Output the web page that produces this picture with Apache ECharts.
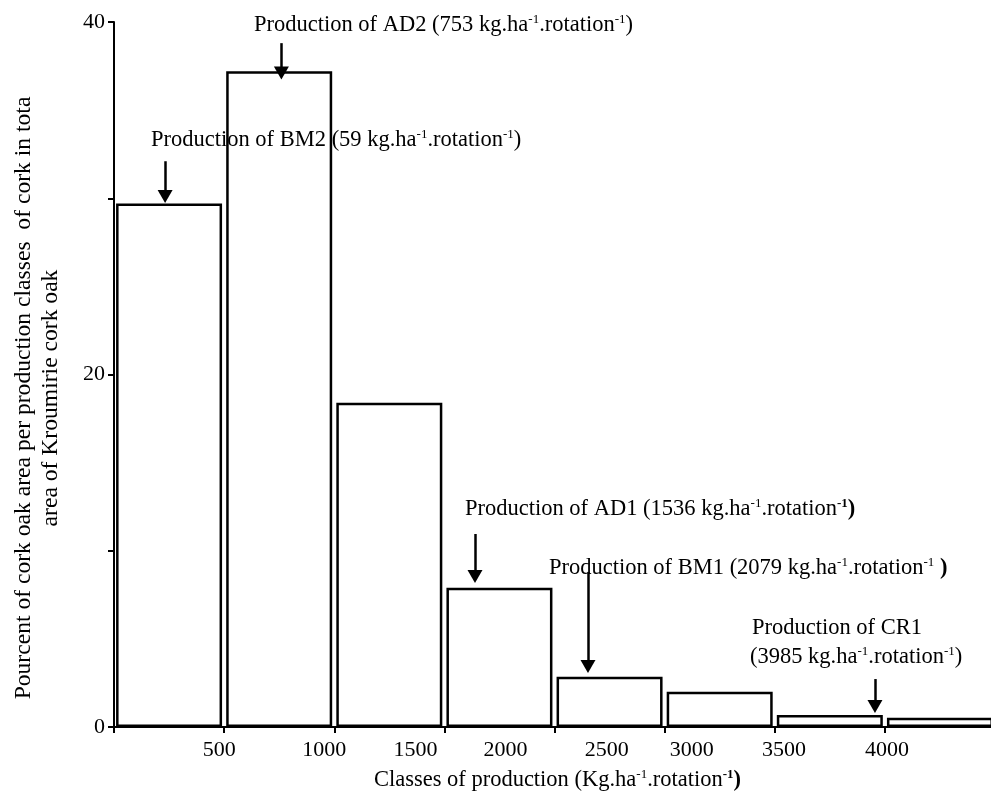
<!DOCTYPE html>
<html>
<head>
<meta charset="utf-8">
<script src="https://cdn.jsdelivr.net/npm/echarts@6/dist/echarts.min.js"></script>
<style>
html,body{margin:0;padding:0;background:#fff;}
#chart{width:991px;height:791px;}
</style>
</head>
<body>
<div id="chart"></div>
<script>
// ---- data ----
const binCenters = [250, 750, 1250, 1750, 2250, 2750, 3250, 3750];
const percentArea = [29.7, 37.2, 18.4, 7.9, 2.85, 2.0, 0.68, 0.53];
const xTickValues = [500, 1000, 1500, 2000, 2500, 3000, 3500, 4000];
const xTickLabels = ['500', '1000', '1500', '2000', '2500', '3000', '3500', '4000'];
const yTickLabels = [0, 20, 40];

// annotation arrows (data coordinates: x = production, y = percent)
const arrowX    = [232, 760, 1639, 2152, 3455];
const arrowFrom = [32.1, 38.8, 10.95, 8.8, 2.72];
const arrowTo   = [30.1, 37.1, 8.54, 3.43, 1.16];

// ---- layout / style ----
const FONT = '"Liberation Serif", "Times New Roman", serif';
const xLabelShift = [-5, -10, -29, -49, -58, -83, -101, -108];

const base = {fontFamily: FONT, fontSize: 22.5, lineHeight: 24, color: '#000'};
const richText = {
  t: Object.assign({}, base),
  b: Object.assign({}, base, {fontWeight: 'bold'}),
  s: {fontFamily: FONT, fontSize: 13, lineHeight: 13, verticalAlign: 'top', color: '#000'},
  sb: {fontFamily: FONT, fontSize: 13, lineHeight: 13, verticalAlign: 'top', color: '#000', fontWeight: 'bold'}
};

const xRich = {};
xLabelShift.forEach((d, i) => {
  xRich['p' + i] = {fontFamily: FONT, fontSize: 22, color: '#000', padding: [0, -2 * d, 0, 0]};
});

const annotations = [
  {x: 151, y: 140, text: '{t|Production of BM2 (59 kg.ha}{s|-1}{t|.rotation}{s|-1}{t|)}'},
  {x: 254, y: 25,  text: '{t|Production of AD2 (753 kg.ha}{s|-1}{t|.rotation}{s|-1}{t|)}'},
  {x: 465, y: 509, text: '{t|Production of AD1 (1536 kg.ha}{s|-1}{t|.rotation}{sb|-1}{b|)}'},
  {x: 549, y: 568, text: '{t|Production of BM1 (2079 kg.ha}{s|-1}{t|.rotation}{s|-1}{t| }{b|)}'},
  {x: 752, y: 628, text: '{t|Production of CR1}'},
  {x: 750, y: 657, text: '{t|(3985 kg.ha}{s|-1}{t|.rotation}{s|-1}{t|)}'}
];

const chart = echarts.init(document.getElementById('chart'), null, {renderer: 'canvas'});

const option = {
  animation: false,
  backgroundColor: '#fff',
  grid: {left: 114, width: 881, top: 22, bottom: 64, containLabel: false, outerBoundsMode: 'none'},
  xAxis: {
    type: 'value',
    min: 0, max: 4000, interval: 500,
    axisLine: {show: true, lineStyle: {color: '#000', width: 2}},
    axisTick: {show: true, length: 6, lineStyle: {color: '#000', width: 2}},
    splitLine: {show: false},
    axisLabel: {
      show: true, margin: 12, showMinLabel: true, showMaxLabel: true,
      fontFamily: FONT, fontSize: 22, color: '#000',
      formatter: function (v) {
        const i = xTickValues.indexOf(v);
        if (i < 0) return '';
        return '{p' + i + '|' + xTickLabels[i] + '}';
      },
      rich: xRich
    },
    name: '{t|Classes of production (Kg.ha}{s|-1}{t|.rotation}{sb|-1}{b|)}',
    nameLocation: 'middle',
    nameGap: 41,
    nameTextStyle: {padding: [0, 0, 0, 6], rich: richText}
  },
  yAxis: {
    type: 'value',
    min: 0, max: 40, interval: 10,
    axisLine: {show: true, lineStyle: {color: '#000', width: 2}},
    axisTick: {show: true, length: 6, lineStyle: {color: '#000', width: 2}},
    splitLine: {show: false},
    axisLabel: {
      margin: 9, fontFamily: FONT, fontSize: 22, color: '#000',
      formatter: function (v) { return yTickLabels.indexOf(v) >= 0 ? String(v) : ''; }
    },
    name: 'Pourcent of cork oak area per production classes  of cork in tota\narea of Kroumirie cork oak',
    nameLocation: 'middle',
    nameRotate: 90,
    nameGap: 50,
    nameTextStyle: {fontFamily: FONT, fontSize: 23.6, lineHeight: 27, color: '#000', padding: [0, 47, 0, 0]}
  },
  series: [{
    type: 'bar',
    data: binCenters.map((c, i) => [c, percentArea[i]]),
    barWidth: 106,
    z: 3,
    itemStyle: {color: 'rgba(255,255,255,0)', borderColor: '#000', borderWidth: 2.5},
    emphasis: {disabled: true},
    markLine: {
      silent: true,
      animation: false,
      symbol: ['none', 'triangle'],
      symbolSize: [15, 13],
      label: {show: false},
      lineStyle: {color: '#000', width: 2.5, type: 'solid'},
      emphasis: {disabled: true},
      data: arrowX.map((x, i) => [{coord: [x, arrowFrom[i]]}, {coord: [x, arrowTo[i]]}])
    }
  }],
  graphic: annotations.map(a => ({
    type: 'text',
    x: a.x, y: a.y,
    z: 1,
    silent: true,
    style: {text: a.text, rich: richText, align: 'left', verticalAlign: 'middle', fill: '#000'}
  }))
};

chart.setOption(option);
</script>
</body>
</html>
